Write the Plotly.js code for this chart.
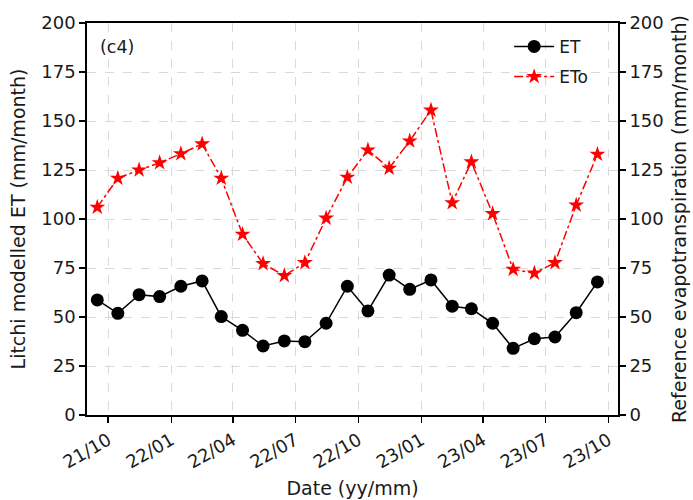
<!DOCTYPE html>
<html>
<head>
<meta charset="utf-8">
<script src="https://cdn.plot.ly/plotly-3.0.1.min.js"></script>
<style>
  html, body { margin: 0; padding: 0; background: #ffffff; }
  #chart { width: 693px; height: 500px; }
</style>
</head>
<body>
<div id="chart"></div>
<script>
// Monthly dates (mid-month), Sep 2021 to Sep 2023
const months = [
  '2021-09-15', '2021-10-15', '2021-11-15', '2021-12-15',
  '2022-01-15', '2022-02-15', '2022-03-15', '2022-04-15',
  '2022-05-15', '2022-06-15', '2022-07-15', '2022-08-15',
  '2022-09-15', '2022-10-15', '2022-11-15', '2022-12-15',
  '2023-01-15', '2023-02-15', '2023-03-15', '2023-04-15',
  '2023-05-15', '2023-06-15', '2023-07-15', '2023-08-15',
  '2023-09-15'
];

// Litchi modelled ET (mm/month)
const etModelled = [
  58.7, 51.9, 61.4, 60.4, 65.7, 68.4, 50.2, 43.2, 35.2, 37.8,
  37.4, 46.8, 65.7, 53.1, 71.4, 64.1, 68.9, 55.5, 54.2, 46.8,
  34.0, 38.9, 39.8, 52.2, 67.9
];

// Reference evapotranspiration ETo (mm/month)
const etoReference = [
  106.0, 120.8, 125.0, 128.7, 133.3, 138.3, 120.8, 92.2, 77.2, 71.1,
  77.7, 100.4, 121.3, 135.2, 125.9, 139.8, 155.5, 108.3, 129.1, 102.7,
  74.3, 72.4, 77.7, 107.1, 133.0
];

// Date axis ticks
const xTickVals = [
  '2021-10-01', '2022-01-01', '2022-04-01', '2022-07-01', '2022-10-01',
  '2023-01-01', '2023-04-01', '2023-07-01', '2023-10-01'
];
const xTickText = [
  '21/10', '22/01', '22/04', '22/07', '22/10',
  '23/01', '23/04', '23/07', '23/10'
];
const yTickVals = [0, 25, 50, 75, 100, 125, 150, 175, 200];

const FONT = 'DejaVu Sans, sans-serif';
const INK = '#1a1a1a';
const GRID = '#d9d9d9';

const traces = [
  {
    x: months, y: etModelled, name: 'ET', legendgroup: 'a',
    type: 'scatter', mode: 'lines+markers',
    line: { color: '#000000', width: 1.5 },
    marker: { symbol: 'circle', size: 13, color: '#000000' },
    yaxis: 'y'
  },
  {
    x: months, y: etoReference, name: 'ETo', legendgroup: 'b',
    type: 'scatter', mode: 'lines+markers',
    line: { color: '#ff0000', width: 1.5, dash: 'dashdot' },
    marker: { symbol: 'star', size: 12, color: '#ff0000' },
    yaxis: 'y2'
  }
];

const axisCommon = {
  showline: true, linecolor: '#000000', linewidth: 1.8,
  ticks: 'outside', ticklen: 6, tickwidth: 1.5, tickcolor: '#000000',
  tickfont: { family: FONT, size: 18, color: INK },
  zeroline: false
};

const layout = {
  width: 693, height: 500,
  margin: { l: 87, r: 75, t: 23, b: 85 },
  paper_bgcolor: '#ffffff', plot_bgcolor: '#ffffff',
  font: { family: FONT, color: INK },
  showlegend: true,
  legend: {
    x: 0.795, y: 0.985, xanchor: 'left', yanchor: 'top',
    bgcolor: 'rgba(0,0,0,0)', borderwidth: 0,
    font: { family: FONT, size: 17, color: INK },
    tracegroupgap: 5, traceorder: 'grouped', itemwidth: 40
  },
  xaxis: Object.assign({}, axisCommon, {
    type: 'date',
    range: ['2021-08-31', '2023-10-15'],
    tickvals: xTickVals, ticktext: xTickText, tickangle: -30,
    mirror: true,
    showgrid: true, gridcolor: GRID, griddash: 'dash', gridwidth: 1,
    title: { text: 'Date (yy/mm)', font: { family: FONT, size: 19, color: INK }, standoff: 10 }
  }),
  yaxis: Object.assign({}, axisCommon, {
    range: [0, 200], tickvals: yTickVals,
    showgrid: true, gridcolor: GRID, griddash: 'dash', gridwidth: 1,
    title: { text: 'Litchi modelled ET (mm/month)', font: { family: FONT, size: 19, color: INK }, standoff: 10 }
  }),
  yaxis2: Object.assign({}, axisCommon, {
    range: [0, 200], tickvals: yTickVals,
    overlaying: 'y', side: 'right', showgrid: false,
    title: { text: 'Reference evapotranspiration (mm/month)', font: { family: FONT, size: 19, color: INK }, standoff: 10 }
  }),
  annotations: [
    {
      text: '(c4)', xref: 'paper', yref: 'paper', x: 0.021, y: 0.94,
      xanchor: 'left', yanchor: 'middle', showarrow: false,
      font: { family: FONT, size: 17.5, color: INK }
    }
  ]
};

Plotly.newPlot('chart', traces, layout, { displayModeBar: false, staticPlot: true });
</script>
</body>
</html>
